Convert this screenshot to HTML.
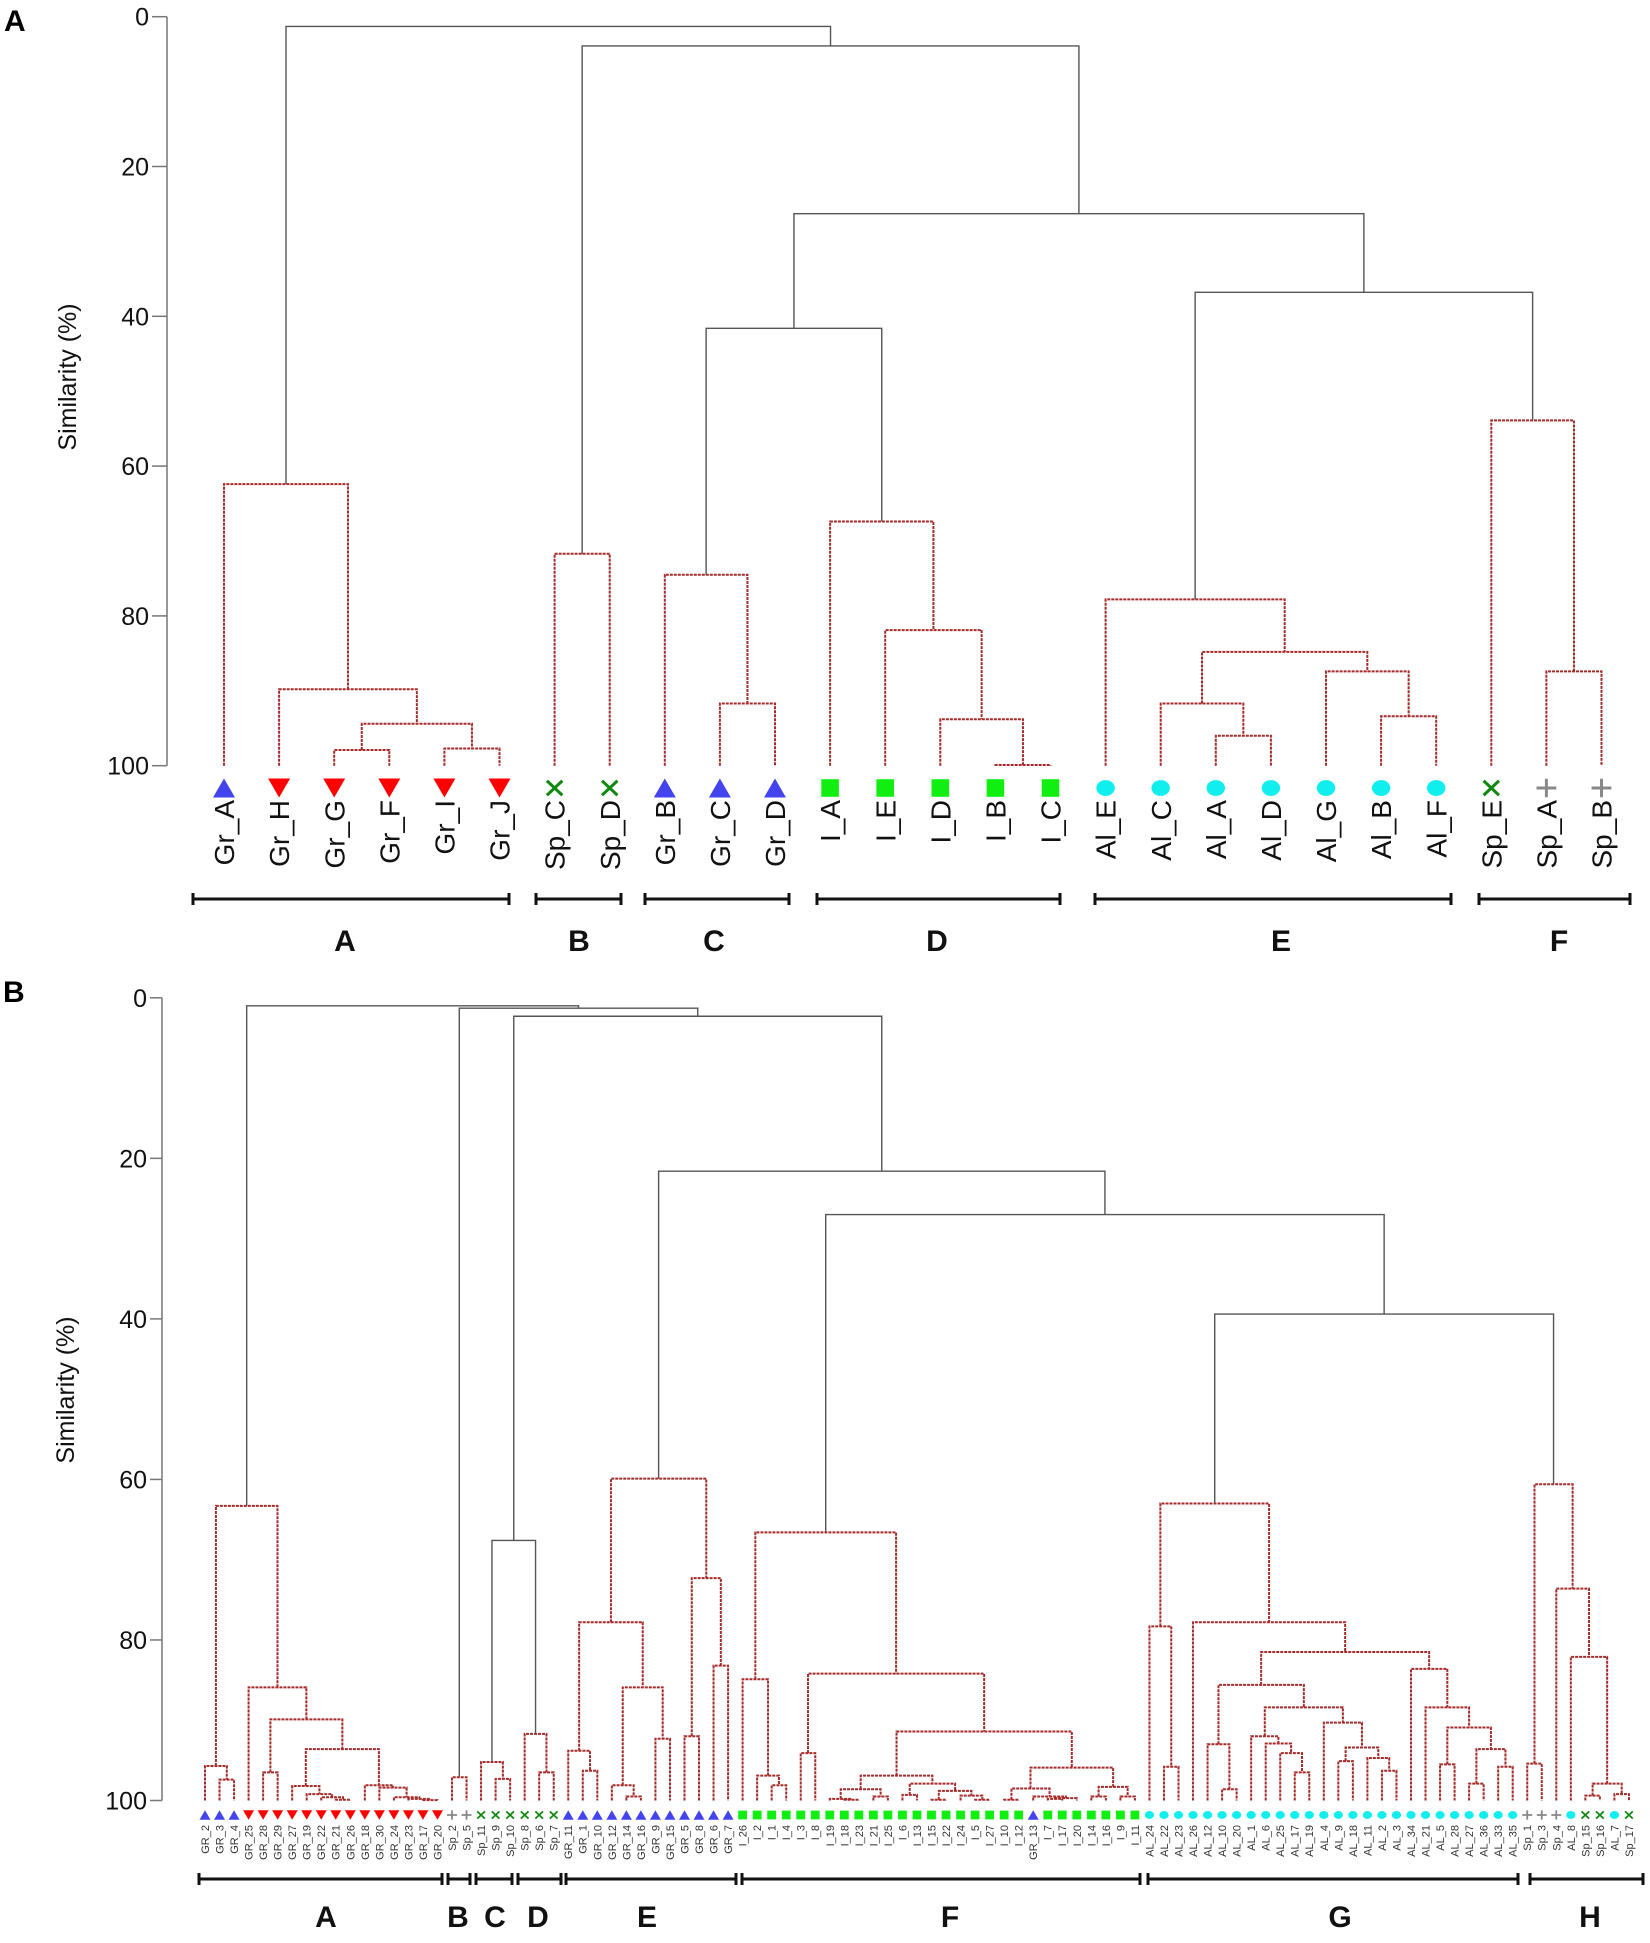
<!DOCTYPE html>
<html><head><meta charset="utf-8">
<style>
html,body{margin:0;padding:0;background:#fff;}
svg{display:block;font-family:"Liberation Sans",Arial,sans-serif;}
</style></head>
<body>
<svg id="fig" width="1650" height="1943" viewBox="0 0 1650 1943" xmlns="http://www.w3.org/2000/svg">
  <rect x="0" y="0" width="1650" height="1943" fill="#fff"/>
  <text x="4" y="31" font-size="30" font-weight="bold">A</text>
  <text x="3" y="1002" font-size="30" font-weight="bold">B</text>
  <g id="topChart"></g>
  <g id="botChart"></g>
</svg>
<script>
// ---------- Panel A data ----------
const topLeaves = ["Gr_A","Gr_H","Gr_G","Gr_F","Gr_I","Gr_J","Sp_C","Sp_D","Gr_B","Gr_C","Gr_D","I_A","I_E","I_D","I_B","I_C","Al_E","Al_C","Al_A","Al_D","Al_G","Al_B","Al_F","Sp_E","Sp_A","Sp_B"];
const topMarkers = ["U","D","D","D","D","D","X","X","U","U","U","S","S","S","S","S","C","C","C","C","C","C","C","X","P","P"];
const topMerges = [
  ["Gr_G","Gr_F",97.9],["Gr_I","Gr_J",97.7],["#0","#1",94.4],["Gr_H","#2",89.8],["Gr_A","#3",62.4],
  ["Sp_C","Sp_D",71.7],["Gr_C","Gr_D",91.7],["Gr_B","#6",74.5],["I_B","I_C",99.9],["I_D","#8",93.8],
  ["I_E","#9",81.9],["I_A","#10",67.4],["#7","#11",41.6],["Al_A","Al_D",96.0],["Al_C","#13",91.7],
  ["Al_B","Al_F",93.4],["Al_G","#15",87.4],["#14","#16",84.8],["Al_E","#17",77.8],["Sp_A","Sp_B",87.4],
  ["Sp_E","#19",53.9],["#18","#20",36.8],["#12","#21",26.3],["#5","#22",3.9],["#4","#23",1.3]
];
const topGray = [12,21,22,23,24];
const topTicks = [0,20,40,60,80,100];
const topGroups = ["A","B","C","D","E","F"];
const topGroupRanges = [[0,5],[6,7],[8,10],[11,15],[16,22],[23,25]];

// ---------- Panel B data ----------
const botLeaves = ["GR_2","GR_3","GR_4","GR_25","GR_28","GR_29","GR_27","GR_19","GR_22","GR_21","GR_26","GR_18","GR_30","GR_24","GR_23","GR_17","GR_20",
 "Sp_2","Sp_5","Sp_11","Sp_9","Sp_10","Sp_8","Sp_6","Sp_7",
 "GR_11","GR_1","GR_10","GR_12","GR_14","GR_16","GR_9","GR_15","GR_5","GR_8","GR_6","GR_7",
 "I_26","I_2","I_1","I_4","I_3","I_8","I_19","I_18","I_23","I_21","I_25","I_6","I_13","I_15","I_22","I_24","I_5","I_27","I_10","I_12","GR_13","I_7","I_17","I_20","I_14","I_16","I_9","I_11",
 "AL_24","AL_22","AL_23","AL_26","AL_12","AL_10","AL_20","AL_1","AL_6","AL_25","AL_17","AL_19","AL_4","AL_9","AL_18","AL_11","AL_2","AL_3","AL_34","AL_21","AL_5","AL_28","AL_27","AL_36","AL_33","AL_35",
 "Sp_1","Sp_3","Sp_4","AL_8","Sp_15","Sp_16","AL_7","Sp_17"];
const botMarkers = ["U","U","U","D","D","D","D","D","D","D","D","D","D","D","D","D","D",
 "P","P","X","X","X","X","X","X",
 "U","U","U","U","U","U","U","U","U","U","U","U",
 "S","S","S","S","S","S","S","S","S","S","S","S","S","S","S","S","S","S","S","S","U","S","S","S","S","S","S","S",
 "C","C","C","C","C","C","C","C","C","C","C","C","C","C","C","C","C","C","C","C","C","C","C","C","C","C",
 "P","P","P","C","X","X","C","X"];
const botMerges = [
 ["GR_3","GR_4",97.4],["GR_2","#0",95.7],["GR_28","GR_29",96.5],["GR_21","GR_26",99.9],["GR_22","#3",99.6],
 ["GR_19","#4",99.2],["GR_27","#5",98.2],["GR_17","GR_20",99.95],["GR_23","#7",99.8],["GR_24","#8",99.6],
 ["GR_30","#9",98.4],["GR_18","#10",98.1],["#6","#11",93.6],["#2","#12",89.9],["GR_25","#13",85.9],
 ["#1","#14",63.3],["Sp_2","Sp_5",97.1],["Sp_9","Sp_10",97.3],["Sp_11","#17",95.2],["Sp_6","Sp_7",96.5],
 ["Sp_8","#19",91.7],["#18","#20",67.6],["GR_1","GR_10",96.3],["GR_11","#22",93.8],["GR_14","GR_16",99.5],
 ["GR_12","#24",98.1],["GR_9","GR_15",92.3],["#25","#26",85.9],["#23","#27",77.8],["GR_5","GR_8",92.0],
 ["GR_6","GR_7",83.2],["#29","#30",72.3],["#28","#31",59.9],
 ["I_1","I_4",98.1],["I_2","#33",96.9],["I_26","#34",84.9],["I_3","I_8",94.1],["I_18","I_23",99.9],
 ["I_19","#37",99.8],["I_21","I_25",99.5],["#38","#39",98.6],["I_6","I_13",99.3],["I_15","I_22",99.9],
 ["I_5","I_27",99.9],["I_24","#43",99.4],["#42","#44",98.8],["#41","#45",97.9],["#40","#46",96.9],
 ["I_10","I_12",99.9],["I_7","I_17",99.8],["#49","I_20",99.7],["GR_13","#50",99.5],["#48","#51",98.5],
 ["I_14","I_16",99.5],["I_9","I_11",99.5],["#53","#54",98.3],["#52","#55",95.9],["#47","#56",91.4],
 ["#36","#57",84.2],["#35","#58",66.6],
 ["AL_22","AL_23",95.8],["AL_24","#60",78.3],["AL_10","AL_20",98.6],["AL_12","#62",93.0],["AL_17","AL_19",96.5],
 ["AL_25","#64",94.1],["AL_6","#65",92.9],["AL_1","#66",92.0],["AL_9","AL_18",95.1],["AL_2","AL_3",96.3],
 ["AL_11","#69",94.7],["#68","#70",93.4],["AL_4","#71",90.3],["#67","#72",88.4],["#63","#73",85.6],
 ["AL_5","AL_28",95.5],["AL_27","AL_36",97.9],["AL_33","AL_35",95.8],["#76","#77",93.6],["#75","#78",90.9],
 ["AL_21","#79",88.4],["AL_34","#80",83.6],["#74","#81",81.5],["AL_26","#82",77.8],["#61","#83",63.0],
 ["Sp_1","Sp_3",95.4],["Sp_15","Sp_16",99.4],["AL_7","Sp_17",99.2],["#86","#87",97.9],["AL_8","#88",82.1],
 ["Sp_4","#89",73.6],["#85","#90",60.6],
 ["#84","#91",39.4],["#59","#92",27.0],["#32","#93",21.6],["#21","#94",2.3],["#16","#95",1.3],["#15","#96",1.0]
];
const botGray = [21,92,93,94,95,96,97];
const botTicks = [0,20,40,60,80,100];
const botGroups = ["A","B","C","D","E","F","G","H"];
const botGroupRanges = [[0,16],[17,18],[19,21],[22,24],[25,36],[37,64],[65,90],[91,98]];

const NS = "http://www.w3.org/2000/svg";
function mk(tag, attrs, parent){
  const e = document.createElementNS(NS, tag);
  for (const k in attrs) e.setAttribute(k, attrs[k]);
  parent.appendChild(e);
  return e;
}

function drawPanel(g, cfg){
  const leaves = cfg.leaves, merges = cfg.merges;
  const xOf = i => cfg.x0 + i * cfg.dx;
  const yOf = s => cfg.y0 + s * cfg.ky;
  // axis
  const ax = mk("line",{x1:cfg.axisX,y1:yOf(0),x2:cfg.axisX,y2:yOf(100),stroke:"#777","stroke-width":1.5},g);
  
  
  cfg.ticks.forEach(t=>{
    const tl = mk("line",{x1:cfg.axisX-cfg.tickLen,y1:yOf(t),x2:cfg.axisX,y2:yOf(t),stroke:"#777","stroke-width":1.5},g);
    
    
    const tx = mk("text",{x:cfg.axisX-cfg.tickLen-3,y:yOf(t)+cfg.tickFont*0.36,"text-anchor":"end","font-size":cfg.tickFont,fill:"#111"},g);
    tx.textContent = t;
    
    
  });
  const yt = mk("text",{x:0,y:0,"text-anchor":"middle","font-size":cfg.titleFont,fill:"#111",transform:`translate(${cfg.titleX},${cfg.titleY}) rotate(-90)`},g);
  yt.textContent = "Similarity (%)";
  
  

  // positions
  const pos = {};
  leaves.forEach((n,i)=>{ pos[n] = {x:xOf(i), y:yOf(100)}; });
  const nodePos = [];
  const getP = k => k[0]==="#" ? nodePos[+k.slice(1)] : pos[k];
  merges.forEach((m,i)=>{
    const a = getP(m[0]), b = getP(m[1]);
    const ym = yOf(m[2]);
    nodePos[i] = {x:(a.x+b.x)/2, y:ym};
    const gray = cfg.gray.indexOf(i) >= 0;
    const attrs = {d:`M${a.x},${a.y} V${ym} H${b.x} V${b.y}`, fill:"none"};
    if (gray){ attrs.stroke="#555"; attrs["stroke-width"]=1.4; }
    else { attrs.stroke="#a52a2a"; attrs["stroke-width"]=2; attrs["stroke-dasharray"]="3,1"; }
    const p = mk("path", attrs, g);
    
    
  });

  // markers + labels
  leaves.forEach((n,i)=>{
    const x = xOf(i), y = cfg.markY, s = cfg.mk;
    const t = cfg.markers[i];
    let e;
    if (t==="U") e = mk("polygon",{points:`${x-s/2},${y+s*0.43} ${x+s/2},${y+s*0.43} ${x},${y-s*0.43}`,fill:"#4444ee"},g);
    else if (t==="D") e = mk("polygon",{points:`${x-s/2},${y-s*0.43} ${x+s/2},${y-s*0.43} ${x},${y+s*0.43}`,fill:"#ff0000"},g);
    else if (t==="S") e = mk("rect",{x:x-s*0.4,y:y-s*0.4,width:s*0.8,height:s*0.8,fill:"#11ee11"},g);
    else if (t==="C") e = mk("ellipse",{cx:x,cy:y,rx:s*0.42,ry:s*0.36,fill:"#11eeee"},g);
    else if (t==="X") e = mk("path",{d:`M${x-s*0.35},${y-s*0.33} L${x+s*0.35},${y+s*0.33} M${x+s*0.35},${y-s*0.33} L${x-s*0.35},${y+s*0.33}`,stroke:"#118811","stroke-width":cfg.xw,fill:"none"},g);
    else e = mk("path",{d:`M${x-s*0.45},${y} H${x+s*0.45} M${x},${y-s*0.42} V${y+s*0.42}`,stroke:"#888","stroke-width":cfg.xw,fill:"none"},g);
    
    
    const lb = mk("text",{x:0,y:0,"text-anchor":"end","font-size":cfg.leafFont,fill:cfg.leafColor,transform:`translate(${x+cfg.leafFont*0.36},${cfg.labelTop}) rotate(-90)`},g);
    lb.textContent = n;
    
    
  });

  // group brackets
  cfg.groups.forEach((gname,k)=>{
    const r = cfg.groupRanges[k];
    const xa = cfg.bracketX[k][0], xb = cfg.bracketX[k][1];
    const by = cfg.bracketY;
    const br = mk("path",{d:`M${xa},${by-6} V${by+6} M${xa},${by} H${xb} M${xb},${by-6} V${by+6}`,stroke:"#111","stroke-width":3,fill:"none"},g);
    
    
    const lt = mk("text",{x:cfg.letterX[k],y:cfg.letterY,"text-anchor":"middle","font-size":cfg.letterFont,"font-weight":"bold",fill:"#111"},g);
    lt.textContent = gname;
    
    
  });
}

drawPanel(document.getElementById('topChart'),{
  leaves:topLeaves, markers:topMarkers, merges:topMerges, gray:topGray, ticks:topTicks,
  x0:224, dx:55.1, y0:16.7, ky:7.49, axisX:167, tickLen:15, tickFont:25,
  titleX:76, titleY:377, titleFont:25,
  markY:788, mk:22, xw:3, leafFont:28, leafColor:"#111", labelTop:800,
  groups:topGroups, groupRanges:topGroupRanges,
  bracketX:[[193,509],[536,621],[645,789],[817,1060],[1095,1451],[1479,1630]],
  bracketY:899, letterX:[345,579,714,937,1281,1559], letterY:951, letterFont:30
});
drawPanel(document.getElementById('botChart'),{
  leaves:botLeaves, markers:botMarkers, merges:botMerges, gray:botGray, ticks:botTicks,
  x0:205, dx:14.53, y0:997.8, ky:8.027, axisX:162, tickLen:12, tickFont:25,
  titleX:74, titleY:1390, titleFont:25,
  markY:1815, mk:11, xw:1.8, leafFont:11, leafColor:"#333", labelTop:1825,
  groups:botGroups, groupRanges:botGroupRanges,
  bracketX:[[199,442],[448,470],[476,512],[518,561],[566,736],[742,1140],[1148,1518],[1530,1643]],
  bracketY:1879, letterX:[326,458,495,538,647,950,1340,1590], letterY:1927, letterFont:30
});
</script>
</body></html>
